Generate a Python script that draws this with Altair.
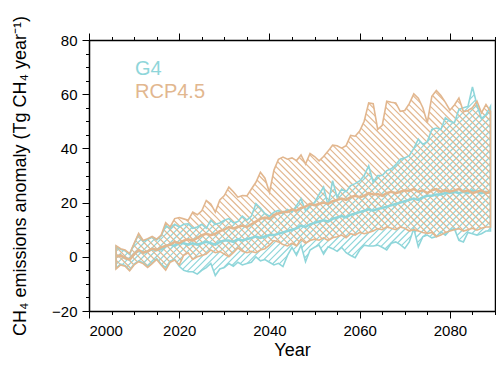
import math
import altair as alt
import pandas as pd

years = list(range(2006, 2090))

rcp_max = [4.1, 3, 2.5, 1.2, 5, 8.6, 6, 6.7, 7.5, 6.5,
           8, 12.6, 11, 14.1, 14.5, 14, 13.5, 16.5, 15.5, 17,
           20.8, 19.5, 16.5, 21, 22.6, 25.7, 24, 22, 22.6, 22.5,
           25, 27.5, 31.2, 29, 23.8, 32, 36, 36.8, 36, 36.5,
           35.5, 37.6, 34.2, 38.1, 37, 35.4, 37, 39, 41.2, 41,
           40.1, 41, 44.8, 44.5, 46.4, 50, 56.8, 56.5, 47, 48.5,
           57.4, 57, 56.8, 53.7, 54, 56.5, 60.1, 58.5, 55, 49.5,
           59.2, 61.4, 59.5, 57, 54.1, 56, 58.6, 53.5, 54, 55,
           57.4, 53.1, 56.2, 53.7]
rcp_min = [-4.5, -3, -3.5, -5.2, -3, -1.8, -2.5, -3.9, -2.5, -1,
           -3, -4.9, -2, -1.2, -3, 0.6, 1.5, -1, 0, 0.5,
           1, 2.5, 1.5, 2, 1, 0, 1.5, 3.3, 2, 1.5,
           2, 1.5, 2.5, 3, 4.3, 6, 5.5, 4.5, 4, 5,
           4, 6.5, 5, 6, 6.5, 6.1, 7, 6, 7, 7.4,
           8, 7, 8.5, 8, 9, 8.5, 9, 9.5, 10.4, 10,
           11, 10.5, 10, 11, 10.5, 9.5, 10, 9.5, 9, 8.6,
           9, 7.4, 8, 9, 9.5, 10, 10.4, 9.5, 10, 10.5,
           9.8, 10.5, 11, 11]
rcp_mean = [0, 0.5, -0.5, -1, 1, 2.5, 1.5, 2, 3, 2.5,
            3.5, 4, 4.5, 5.5, 5, 6, 6.5, 6, 7, 8,
            8.5, 8, 8.5, 9.5, 10, 11, 10.5, 11, 11.5, 11,
            12, 13, 14, 14.5, 14, 15.5, 16, 16.5, 16.5, 17.5,
            17, 18, 18.5, 19.5, 19, 19.5, 20, 19.5, 20.5, 21,
            21.5, 21, 22, 22.5, 22, 22.5, 23.5, 23, 23.2, 22.5,
            23.5, 24, 23.5, 24, 24.5, 24.4, 25, 24, 24.5, 23.5,
            24.5, 25, 24, 24.5, 24, 24.5, 25, 24, 24.5, 23.5,
            24, 24.5, 23.5, 24]

g4_max = [3.8, 2.7, 2.2, 0.9, 4.7, 8.3, 5.7, 6.4, 7.2, 6.2,
          7.7, 11.5, 10.5, 12, 11, 12, 12.2, 10.5, 11, 12,
          10.5, 13.5, 12, 12.5, 13.5, 14.1, 12.5, 13, 15, 13.5,
          15, 19.6, 18, 16, 15, 16.5, 17.1, 16, 17.5, 16.5,
          18.9, 21.4, 17, 19, 20, 23, 25.7, 18.9, 28.1, 22,
          25, 24, 26.3, 27, 28, 30, 33.6, 27.5, 30, 30,
          31.8, 32.5, 34, 36, 36.5, 37.3, 40, 43.4, 41.5, 42.5,
          47, 47.5, 47, 51.3, 50, 49.5, 54.4, 55, 55.5, 62.7,
          56, 51, 52.5, 55.5]
g4_min = [-4.2, -2.7, -3.2, -4.9, -2.7, -1.5, -2.2, -3.6, -2.2, -0.7,
          -2.7, -4, -1.5, -1, -3.5, -5, -5.5, -5.5, -6.4, -5,
          -4, -2.4, -6.9, -4.5, -4, -2.5, -3.5, -2, -3, -2.5,
          -2, 0, -1.5, -1, -2, -3, -2.4, -3.6, 0.5, 3.5,
          0.6, 4.3, -1.8, 2.5, 3.5, 4.3, 1, 3.7, 3, 2,
          3.5, 1.5, 0.5, -0.3, 2.5, 4.3, 4, 4, 4.3, 3.5,
          2.5, 5, 5.5, 4.5, 3.1, 5.5, 10.4, 3.7, 7.4, 8,
          7, 7.5, 9.2, 8, 9.8, 10.4, 6.1, 5.5, 9, 8.5,
          8, 8.5, 9.5, 9.5]
g4_mean = [0, 0.5, -0.5, -1, 1, 2.3, 1.5, 2, 2.8, 2.5,
           2.8, 4, 4.5, 4, 5, 5, 4.5, 5, 4.5, 5,
           5.5, 5, 4.5, 5.5, 6, 6, 5.5, 6.5, 6, 6.5,
           7, 7.5, 7, 7.5, 8, 8, 8.5, 9, 9.5, 10,
           10.5, 11.5, 11, 12, 12.5, 13, 13.5, 13, 14, 14.5,
           15, 14.5, 15.5, 16, 16.5, 17, 17.5, 17, 17.7, 18,
           18.5, 19, 19.5, 20, 20.5, 21, 21.5, 21, 22, 22.5,
           22.5, 23, 23, 23.5, 23.5, 24, 23.5, 24, 23.5, 24.5,
           24, 23.5, 24, 23.5]

series_names = ["G4", "RCP4.5"]
colors = ["#8fd6da", "#e2b78f"]

W, H = 406, 271
X0, X1 = 2000, 2090
Y0, Y1 = -20, 80
kx = W / (X1 - X0)
ky = H / (Y1 - Y0)


def hatch(lo, hi, s, sp):
    u = [(y - X0) * kx for y in years]
    glo = [(l - Y0) * ky - s * ui for l, ui in zip(lo, u)]
    ghi = [(h - Y0) * ky - s * ui for h, ui in zip(hi, u)]
    rows = []
    c = math.floor(min(glo) / sp) * sp
    cmax = max(ghi)
    while c <= cmax:
        ivs = []
        for i in range(len(u) - 1):
            t0, t1 = 0.0, 1.0
            for g0, g1, sg in ((glo[i], glo[i + 1], 1), (ghi[i], ghi[i + 1], -1)):
                a = sg * (g0 - c)
                b = sg * (g1 - g0)
                if abs(b) < 1e-12:
                    if a > 0:
                        t0, t1 = 1.0, 0.0
                else:
                    tt = -a / b
                    if b > 0:
                        t1 = min(t1, tt)
                    else:
                        t0 = max(t0, tt)
            if t1 - t0 > 1e-9:
                ua = u[i] + t0 * (u[i + 1] - u[i])
                ub = u[i] + t1 * (u[i + 1] - u[i])
                if ivs and abs(ivs[-1][1] - ua) < 1e-6:
                    ivs[-1][1] = ub
                else:
                    ivs.append([ua, ub])
        for ua, ub in ivs:
            rows.append({
                "x": ua / kx + X0, "y": (s * ua + c) / ky + Y0,
                "x2": ub / kx + X0, "y2": (s * ub + c) / ky + Y0,
            })
        c += sp
    return pd.DataFrame(rows)


df = pd.DataFrame({
    "year": years,
    "g4_max": g4_max, "g4_min": g4_min, "g4_mean": g4_mean,
    "rcp_max": rcp_max, "rcp_min": rcp_min, "rcp_mean": rcp_mean,
})

xs = alt.Scale(domain=[X0, X1], nice=False, zero=False)
ys = alt.Scale(domain=[Y0, Y1], nice=False, zero=False)

base = alt.Chart(df)


def hatch_layer(frame, col):
    return alt.Chart(frame).mark_rule(color=col, strokeWidth=1.2).encode(
        x=alt.X("x:Q", scale=xs, axis=None),
        y=alt.Y("y:Q", scale=ys, axis=None),
        x2="x2:Q", y2="y2:Q",
    )


def outline(lo, hi, col):
    return base.mark_area(fill=col, fillOpacity=0, stroke=col, strokeWidth=1.6).encode(
        x=alt.X("year:Q", scale=xs, axis=None),
        y=alt.Y(f"{lo}:Q", scale=ys, axis=None),
        y2=f"{hi}:Q",
    )


def mean_line(field, col):
    return base.mark_line(color=col, strokeWidth=2.5).encode(
        x=alt.X("year:Q", scale=xs, axis=None),
        y=alt.Y(f"{field}:Q", scale=ys, axis=None),
    )


h_g4 = hatch_layer(hatch(g4_min, g4_max, 1, 6.5), colors[0])
h_rcp = hatch_layer(hatch(rcp_min, rcp_max, -1, 6.5), colors[1])

xmaj = [2000, 2020, 2040, 2060, 2080]
xmin = list(range(2000, 2091, 5))
ymaj = [-20, 0, 20, 40, 60, 80]
ymin = list(range(-20, 81, 5))

ytitle = "CH\u2084 emissions anomaly (Tg CH\u2084 year\u207b\u00b9)"


def axis_layer(xax, yax):
    return base.mark_point(opacity=0).encode(
        x=alt.X("year:Q", scale=xs, axis=xax),
        y=alt.Y("g4_mean:Q", scale=ys, axis=yax),
    )


ax1 = axis_layer(
    alt.Axis(orient="bottom", values=xmaj, format="d", title="Year", tickSize=7,
             labelPadding=5, titlePadding=3, grid=False),
    alt.Axis(orient="left", values=ymaj, format="d", title=ytitle, tickSize=7,
             labelPadding=5, titlePadding=22, grid=False),
)
ax2 = axis_layer(
    alt.Axis(orient="bottom", values=xmin, labels=False, title=None, tickSize=3.5,
             domain=False, grid=False),
    alt.Axis(orient="left", values=ymin, labels=False, title=None, tickSize=3.5,
             domain=False, grid=False),
)
ax3 = axis_layer(
    alt.Axis(orient="top", values=xmaj, labels=False, title=None, tickSize=7, grid=False),
    alt.Axis(orient="right", values=ymaj, labels=False, title=None, tickSize=7, grid=False),
)
ax4 = axis_layer(
    alt.Axis(orient="top", values=xmin, labels=False, title=None, tickSize=3.5,
             domain=False, grid=False),
    alt.Axis(orient="right", values=ymin, labels=False, title=None, tickSize=3.5,
             domain=False, grid=False),
)

leg = pd.DataFrame({"label": series_names})
leg_g4 = alt.Chart(leg[leg.label == "G4"]).mark_text(
    align="left", baseline="alphabetic", fontSize=20, font="Liberation Sans",
    color=colors[0]).encode(text="label:N", x=alt.value(46), y=alt.value(35))
leg_rcp = alt.Chart(leg[leg.label == "RCP4.5"]).mark_text(
    align="left", baseline="alphabetic", fontSize=20, font="Liberation Sans",
    color=colors[1]).encode(text="label:N", x=alt.value(46), y=alt.value(58))

chart = alt.layer(
    h_g4, h_rcp,
    outline("g4_min", "g4_max", colors[0]),
    outline("rcp_min", "rcp_max", colors[1]),
    mean_line("g4_mean", colors[0]),
    mean_line("rcp_mean", colors[1]),
    leg_g4, leg_rcp,
    ax1, ax2, ax3, ax4,
).resolve_axis(x="independent", y="independent").properties(
    width=W, height=H,
    autosize=alt.AutoSizeParams(type="none"),
    padding={"left": 81, "top": 32, "right": 1, "bottom": 50},
).configure_view(stroke=None).configure_axis(
    labelFont="Liberation Sans", titleFont="Liberation Sans",
    labelFontSize=15, titleFontSize=18, titleFontWeight="normal",
    labelColor="black", titleColor="black", tickColor="black",
    domainColor="black", domainWidth=1.5, tickWidth=1,
)

chart.save("out.html", embed_options={"renderer": "svg", "actions": False})
